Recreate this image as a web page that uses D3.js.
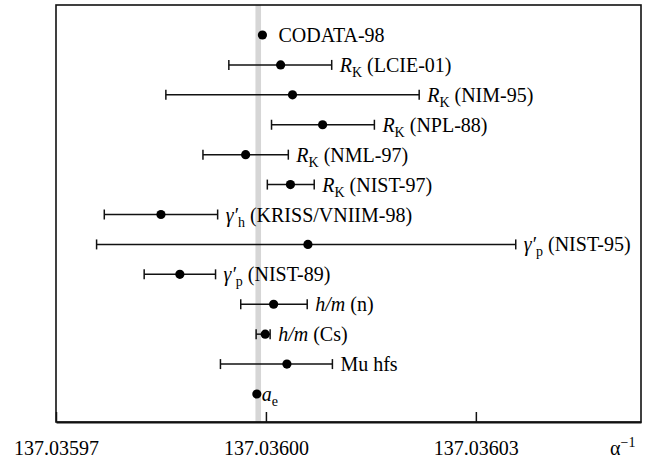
<!DOCTYPE html>
<html>
<head>
<meta charset="utf-8">
<script src="https://cdn.jsdelivr.net/npm/d3@7"></script>
</head>
<body style="margin:0">
<svg id="chart" width="650" height="459" font-family="Liberation Serif"></svg>
<script>
// ---------- data ----------
const categories = ["CODATA-98", "RK (LCIE-01)", "RK (NIM-95)", "RK (NPL-88)", "RK (NML-97)", "RK (NIST-97)",
  "gh (KRISS/VNIIM-98)", "gp (NIST-95)", "gp (NIST-89)", "h/m (n)", "h/m (Cs)", "Mu hfs", "ae"];
const values = [137.0359995, 137.0360021, 137.0360038, 137.0360081, 137.0359971, 137.0360035,
  137.0359850, 137.0360060, 137.0359877, 137.0360011, 137.0359999, 137.0360030, 137.0359987];
const lows = [null, 137.0359947, 137.0359857, 137.0360008, 137.0359910, 137.0360002,
  137.0359769, 137.0359758, 137.0359826, 137.0359964, 137.0359986, 137.0359935, null];
const highs = [null, 137.0360094, 137.0360219, 137.0360155, 137.0360032, 137.0360069,
  137.0359931, 137.0360357, 137.0359928, 137.0360059, 137.0360006, 137.0360095, null];
// label text segments: [text, kind]  kind: n=normal, i=italic, sub=subscript, pr=prime
const labelParts = [
  [["CODATA-98", "n"]],
  [["R", "i"], ["K", "sub"], [" (LCIE-01)", "n"]],
  [["R", "i"], ["K", "sub"], [" (NIM-95)", "n"]],
  [["R", "i"], ["K", "sub"], [" (NPL-88)", "n"]],
  [["R", "i"], ["K", "sub"], [" (NML-97)", "n"]],
  [["R", "i"], ["K", "sub"], [" (NIST-97)", "n"]],
  [["γ′", "i"], ["h", "sub"], [" (KRISS/VNIIM-98)", "n"]],
  [["γ′", "i"], ["p", "sub"], [" (NIST-95)", "n"]],
  [["γ′", "i"], ["p", "sub"], [" (NIST-89)", "n"]],
  [["h", "i"], ["/", "i"], ["m", "i"], [" (n)", "n"]],
  [["h", "i"], ["/", "i"], ["m", "i"], [" (Cs)", "n"]],
  [["Mu hfs", "n"]],
  [["a", "i"], ["e", "sub"]]
];
const bandRange = [137.0359985, 137.0359993];
const tickValues = [137.03597, 137.03600, 137.03603];
const tickLabels = ["137.03597", "137.03600", "137.03603"];
const xDomain = [137.03597, 137.0360536];

// ---------- layout ----------
const FONT = "Liberation Serif";
const frame = { left: 56, right: 641, top: 5, bottom: 422 };
const svg = d3.select("#chart");

const x = d3.scaleLinear().domain(xDomain).range([frame.left, frame.right]);
const y = d3.scalePoint().domain(d3.range(categories.length)).range([35, 394]);

// gray band
svg.append("rect")
  .attr("x", x(bandRange[0]))
  .attr("y", frame.top)
  .attr("width", x(bandRange[1]) - x(bandRange[0]))
  .attr("height", frame.bottom - frame.top)
  .attr("fill", "#d6d6d6");

// frame
svg.append("rect")
  .attr("x", frame.left).attr("y", frame.top)
  .attr("width", frame.right - frame.left).attr("height", frame.bottom - frame.top)
  .attr("fill", "none").attr("stroke", "#111").attr("stroke-width", 1.6);

// axis
const axis = d3.axisBottom(x)
  .tickValues(tickValues)
  .tickFormat((d, i) => tickLabels[i])
  .tickSizeInner(-10).tickSizeOuter(0).tickPadding(19);
const gAxis = svg.append("g").attr("transform", `translate(0,${frame.bottom})`).call(axis);
gAxis.attr("font-family", FONT).attr("font-size", 20);
gAxis.select(".domain").attr("stroke", "#111").attr("stroke-width", 2);
gAxis.selectAll(".tick line").attr("stroke", "#111").attr("stroke-width", 1.5);
gAxis.selectAll(".tick text").attr("font-family", FONT).attr("font-size", 20).attr("fill", "#000");

// alpha^-1 axis title
const at = svg.append("text").attr("x", 610).attr("y", 455)
  .attr("font-family", FONT).attr("font-size", 20);
at.append("tspan").text("α");
at.append("tspan").attr("dy", -8).attr("font-size", 14).text("−1");

// error bars
const rows = d3.range(categories.length);
const eb = svg.append("g");
rows.forEach(i => {
  if (lows[i] == null) return;
  const yy = y(i);
  eb.append("line").attr("x1", x(lows[i])).attr("x2", x(highs[i])).attr("y1", yy).attr("y2", yy)
    .attr("stroke", "#111").attr("stroke-width", 1.5);
  [lows[i], highs[i]].forEach(v => {
    eb.append("line").attr("x1", x(v)).attr("x2", x(v)).attr("y1", yy - 5).attr("y2", yy + 5)
      .attr("stroke", "#111").attr("stroke-width", 1.5);
  });
});

// points
svg.append("g").selectAll("circle").data(rows).join("circle")
  .attr("cx", i => x(values[i])).attr("cy", i => y(i)).attr("r", 4.6).attr("fill", "#000");

// labels
const gapFor = i => (lows[i] == null ? (i === 0 ? 16 : 5) : 8);
const lg = svg.append("g");
rows.forEach(i => {
  const anchor = highs[i] == null ? values[i] : highs[i];
  const t = lg.append("text")
    .attr("x", x(anchor) + gapFor(i))
    .attr("y", y(i) + 7)
    .attr("font-family", FONT)
    .attr("font-size", 20);
  let shift = 0;
  labelParts[i].forEach(([txt, kind]) => {
    const s = t.append("tspan").text(txt);
    if (kind === "i" || kind === "n") {
      if (kind === "i") s.attr("font-style", "italic");
      if (shift) { s.attr("dy", -shift); shift = 0; }
    } else if (kind === "sub") {
      s.attr("dy", 5).attr("font-size", 14);
      shift = 5;
    }
  });
});
</script>
</body>
</html>
